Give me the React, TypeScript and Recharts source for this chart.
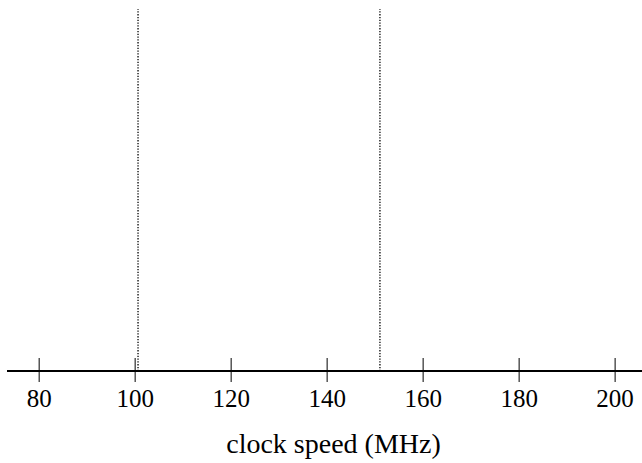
import { ComposedChart, XAxis, YAxis, ReferenceLine, Line } from "recharts";

// x positions of the two dotted markers (MHz)
const MARKERS = [100.6, 151];
const TICKS = [80, 100, 120, 140, 160, 180, 200];
const X_DOMAIN = [73.3, 205.6];
const TITLE = "clock speed (MHz)";

const FONT = "'Liberation Serif', 'Times New Roman', serif";

function CrossTick({ x, y, payload }: any) {
  return (
    <g>
      <line x1={x} x2={x} y1={y - 13} y2={y + 11} stroke="#000" strokeWidth={1} />
      <text x={x} y={y + 36} textAnchor="middle" fontFamily={FONT} fontSize={25} fill="#000">
        {payload.value}
      </text>
    </g>
  );
}

function AxisTitle({ viewBox }: any) {
  const cx = viewBox.x + viewBox.width / 2 + 9;
  return (
    <text x={cx} y={viewBox.y + 82} textAnchor="middle" fontFamily={FONT} fontSize={28} fill="#000">
      {TITLE}
    </text>
  );
}

export default function App() {
  const data = MARKERS.map(v => ({ x: v, y: 0 }));
  return (
    <div style={{ position: "absolute", left: 0, top: 0, background: "#fff" }}>
      <ComposedChart width={642} height={463} data={data} margin={{ top: 9, right: 0, left: 7, bottom: 0 }}>
        <XAxis
          type="number"
          dataKey="x"
          domain={X_DOMAIN}
          ticks={TICKS}
          allowDataOverflow
          height={92}
          tickSize={0}
          tickMargin={0}
          tickLine={false}
          axisLine={{ stroke: "#000", strokeWidth: 2 }}
          tick={<CrossTick />}
          label={<AxisTitle />}
          interval={0}
        />
        <YAxis hide domain={[0, 1]} />
        <Line dataKey="y" stroke="none" dot={false} activeDot={false} isAnimationActive={false} />
        {MARKERS.map(v => (
          <ReferenceLine key={v} x={v} stroke="#000" strokeWidth={1.3} strokeDasharray="1.3 1.5" />
        ))}
      </ComposedChart>
    </div>
  );
}
